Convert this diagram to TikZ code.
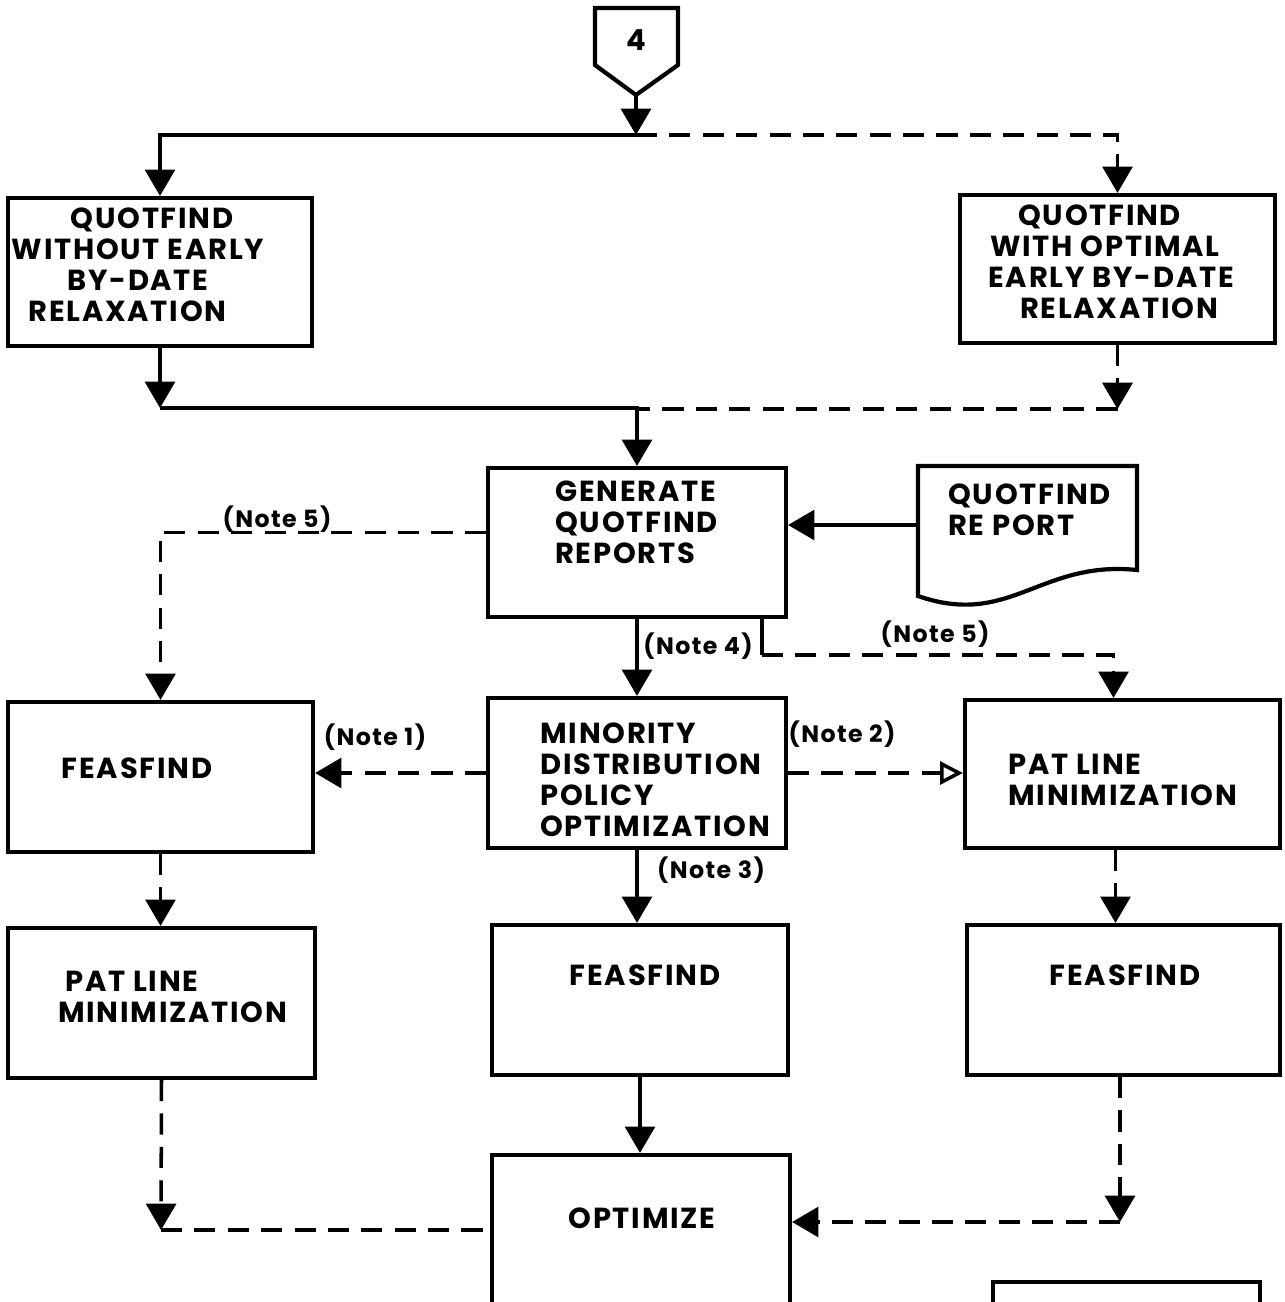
\documentclass[tikz,border=0pt]{standalone}
\usepackage{fontspec}
\setmainfont{Poppins}[LetterSpace=6]
\usetikzlibrary{arrows.meta}
\begin{document}
\begin{tikzpicture}[x=0.02cm,y=-0.02cm,
  box/.style={draw, line width=2.4pt, inner sep=0pt},
  txt/.style={font=\fontsize{16.5}{17.6}\selectfont\bfseries, inner sep=0pt},
  note/.style={font=\fontsize{13.5}{15}\selectfont\bfseries, inner sep=1pt},
  ln/.style={line width=2pt},
  dsh/.style={line width=2pt, dash pattern=on 12pt off 7pt},
  arr/.style={-{Triangle[width=17pt,length=15pt]}},
  oarr/.style={-{Triangle[open,width=13pt,length=13pt,line width=2pt]}}]
\useasboundingbox (0,0) rectangle (1285,1302);
% start connector
\draw[line width=2.4pt] (595,8) -- (678,8) -- (678,65) -- (636,95) -- (595,65) -- cycle;
\node[txt] (p4) at (636,40) {4};
\coordinate (p4tip) at (636,95);
\coordinate (j1) at (636,135);
% boxes
\node[box, minimum width=6.08cm, minimum height=2.96cm] (b1) at (160,272) {};
\node[box, minimum width=6.3cm, minimum height=2.96cm] (b2) at (1117.5,269) {};
\node[box, minimum width=5.96cm, minimum height=2.98cm] (gen) at (637,542.5) {};
\node[box, minimum width=5.96cm, minimum height=3.0cm] (min) at (637,773) {};
\node[box, minimum width=6.1cm, minimum height=3.0cm] (fl) at (160.5,777) {};
\node[box, minimum width=6.3cm, minimum height=2.96cm] (pr) at (1122.5,774) {};
\node[box, minimum width=6.14cm, minimum height=3.0cm] (pl) at (161.5,1003) {};
\node[box, minimum width=5.92cm, minimum height=3.0cm] (fm) at (640,1000) {};
\node[box, minimum width=6.26cm, minimum height=3.0cm] (fr) at (1123.5,1000) {};
\node[box, minimum width=5.96cm, minimum height=3.7cm] (opt) at (641,1247.5) {};
\node[box, minimum width=5.34cm, minimum height=1.16cm] (br) at (1126.5,1311) {};
% document shape
\draw[line width=2.4pt] (918,466) -- (1137,466) -- (1137,570)
  .. controls (1040,560) and (1010,628) .. (918,596) -- cycle;
\coordinate (repW) at (918,525);
% texts
\node[txt, align=center] (t1) at (138,265) {\hspace*{16pt}QUOTFIND\\WITHOUT EARLY\\BY-DATE\\RELAXATION\hspace*{12pt}};
\node[txt, align=center] (t2) at (1105,262) {QUOTFIND\hspace*{6pt}\\WITH OPTIMAL\hspace*{16pt}\\\hspace*{7pt}EARLY BY-DATE\\\hspace*{16pt}RELAXATION};
\node[txt, align=left, anchor=west] (t3) at (555,522) {GENERATE\\QUOTFIND\\REPORTS};
\node[txt, align=left, anchor=west] (rep) at (948,510) {QUOTFIND\\RE PORT};
\node[txt, align=left, anchor=west] (t4) at (540,780) {MINORITY\\DISTRIBUTION\\POLICY\\OPTIMIZATION};
\node[txt] (t5) at (137,768) {FEASFIND};
\node[txt, align=left, anchor=west] (t6) at (1008,780) {PAT LINE\\MINIMIZATION};
\node[txt, align=left, anchor=west] (t7) at (58,997) {\hspace*{4pt}PAT LINE\\MINIMIZATION};
\node[txt] (t8) at (645,975) {FEASFIND};
\node[txt] (t9) at (1125,975) {FEASFIND};
\node[txt] (t10) at (642,1218) {OPTIMIZE};
% notes
\node[note] (n5a) at (277,519) {(Note 5)};
\node[note] (n4) at (698,646) {(Note 4)};
\node[note] (n5b) at (935,634) {(Note 5)};
\node[note] (n1) at (375,737) {(Note 1)};
\node[note] (n2) at (842,734) {(Note 2)};
\node[note] (n3) at (711,870) {(Note 3)};
% connectors
\draw[ln,arr] (p4tip) -- (j1);
\draw[ln,arr] (j1) -| (b1.north);
\draw[dsh,arr] (j1) -| (b2.north);
\coordinate (j2) at (160,408);
\draw[ln,arr] (b1.south) -- (j2);
\draw[ln,arr] (j2) -| (gen.north);
\path (b2.south) ++(0,64) coordinate (j3);
\draw[dsh,arr] (b2.south) -- (j3);
\draw[dsh] (j3) -- (j3 -| gen.north);
\draw[dsh,arr] ([yshift=0.2cm]gen.west) -| (fl.north);
\draw[ln,arr] (repW) -- (repW -| gen.east);
\draw[ln,arr] (gen.south) -- (min.north);
\coordinate (g5) at (762,617);
\path (g5) ++(0,38) coordinate (g5b);
\draw[line width=2.6pt] (g5) -- (g5b);
\draw[dsh,arr] (g5b) -| ([xshift=-0.18cm]pr.north);
\draw[dsh,arr] (min.west) -- (min.west -| fl.east);
\draw[dsh,oarr] (min.east) -- (min.east -| pr.west);
\draw[ln,arr] (min.south) -- (min.south |- fm.north);
\draw[dsh,arr] (fl.south) -- (fl.south |- pl.north);
\draw[dsh,arr] ([xshift=-0.14cm]pr.south) -- ([xshift=-0.14cm]pr.south |- fr.north);
\coordinate (j4) at (161,1230);
\draw[dsh,arr] (pl.south) -- (j4);
\draw[dsh] (j4) -- (j4 -| opt.west);
\draw[ln,arr] (fm.south) -- (fm.south |- opt.north);
\coordinate (j5) at (1120,1222);
\draw[dsh,arr] (fr.south -| j5) -- (j5);
\draw[dsh,arr] (j5) -- (j5 -| opt.east);
\end{tikzpicture}
\end{document}
